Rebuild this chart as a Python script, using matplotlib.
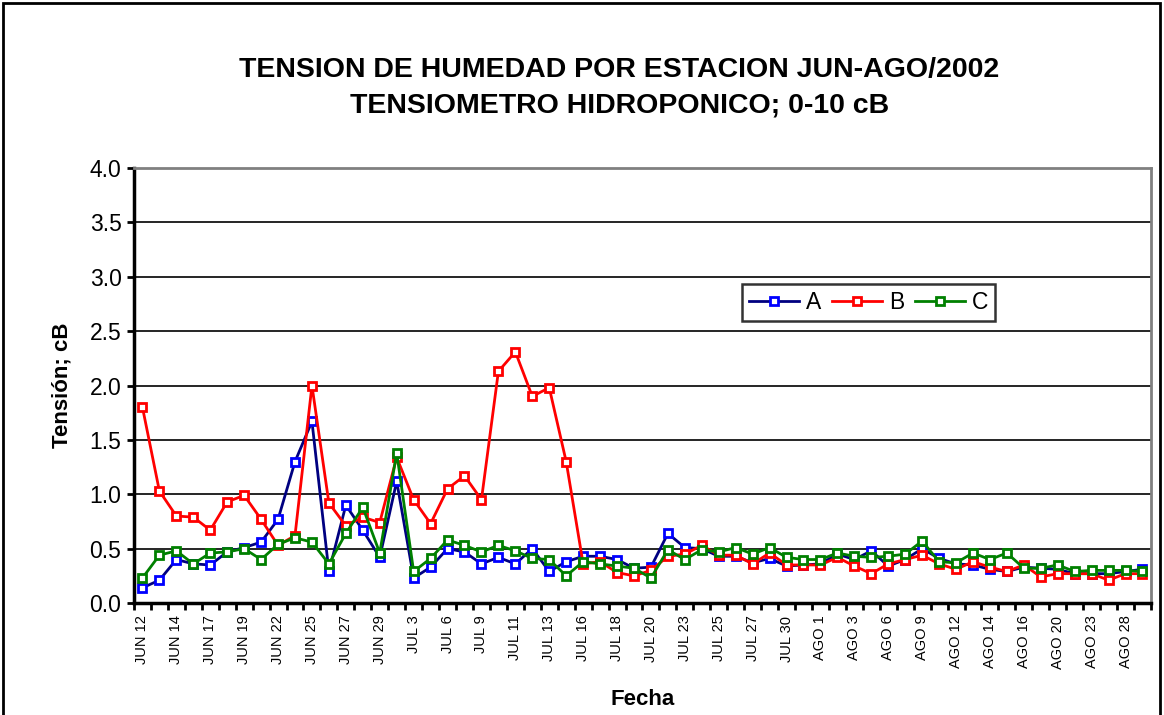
import matplotlib
matplotlib.use("Agg")
import matplotlib.pyplot as plt
from matplotlib.patches import Rectangle

plt.rcParams["font.family"] = ["Liberation Sans", "DejaVu Sans"]

# tick labels, one for every second reading
fechas = [
    "JUN 12", "JUN 14", "JUN 17", "JUN 19", "JUN 22", "JUN 25", "JUN 27",
    "JUN 29", "JUL 3", "JUL 6", "JUL 9", "JUL 11", "JUL 13", "JUL 16",
    "JUL 18", "JUL 20", "JUL 23", "JUL 25", "JUL 27", "JUL 30", "AGO 1",
    "AGO 3", "AGO 6", "AGO 9", "AGO 12", "AGO 14", "AGO 16", "AGO 20",
    "AGO 23", "AGO 28",
]

est_a = [
    0.14, 0.21, 0.40, 0.36, 0.35, 0.47, 0.51, 0.56, 0.77, 1.30,
    1.67, 0.29, 0.90, 0.67, 0.42, 1.12, 0.23, 0.33, 0.50, 0.47,
    0.36, 0.42, 0.36, 0.50, 0.29, 0.38, 0.43, 0.43, 0.40, 0.32,
    0.33, 0.64, 0.51, 0.50, 0.43, 0.43, 0.37, 0.41, 0.34, 0.35,
    0.36, 0.45, 0.40, 0.48, 0.34, 0.40, 0.50, 0.41, 0.36, 0.35,
    0.31, 0.29, 0.33, 0.32, 0.31, 0.27, 0.27, 0.27, 0.29, 0.31,
]
est_b = [
    1.80, 1.03, 0.80, 0.79, 0.67, 0.93, 0.99, 0.77, 0.53, 0.62,
    2.00, 0.92, 0.71, 0.79, 0.74, 1.34, 0.95, 0.73, 1.05, 1.17,
    0.95, 2.13, 2.31, 1.90, 1.98, 1.30, 0.36, 0.38, 0.28, 0.25,
    0.30, 0.43, 0.45, 0.53, 0.44, 0.44, 0.36, 0.46, 0.35, 0.35,
    0.35, 0.42, 0.34, 0.27, 0.36, 0.40, 0.44, 0.36, 0.31, 0.38,
    0.33, 0.29, 0.35, 0.24, 0.27, 0.27, 0.27, 0.21, 0.27, 0.27,
]
est_c = [
    0.23, 0.44, 0.48, 0.36, 0.46, 0.47, 0.50, 0.40, 0.54, 0.60,
    0.56, 0.36, 0.64, 0.88, 0.46, 1.38, 0.29, 0.41, 0.58, 0.53,
    0.47, 0.53, 0.48, 0.41, 0.40, 0.25, 0.38, 0.36, 0.34, 0.32,
    0.23, 0.49, 0.40, 0.49, 0.47, 0.51, 0.45, 0.51, 0.42, 0.40,
    0.40, 0.46, 0.43, 0.42, 0.43, 0.45, 0.57, 0.38, 0.37, 0.46,
    0.40, 0.46, 0.32, 0.32, 0.35, 0.29, 0.30, 0.30, 0.30, 0.29,
]

series = [
    ("A", est_a, "#000080", "#0000ff"),
    ("B", est_b, "#ff0000", "#ff0000"),
    ("C", est_c, "#008000", "#008000"),
]

fig = plt.figure(figsize=(11.64, 7.15), dpi=100)
ax = fig.add_axes([0.1151, 0.1566, 0.8737, 0.6084])

x = list(range(len(est_a)))
for name, vals, lc, mc in series:
    ax.plot(x, vals, color=lc, linewidth=2.0, marker="s", markersize=5.5,
            markerfacecolor="white", markeredgecolor=mc, markeredgewidth=2.0,
            label=name, zorder=3)

ax.set_xlim(-0.5, len(x) - 0.5)
ax.set_ylim(0, 4.0)
ax.set_yticks([i * 0.5 for i in range(9)])
ax.set_yticklabels([f"{i * 0.5:.1f}" for i in range(9)], fontsize=16.5)
ax.yaxis.grid(True, color="black", linewidth=1.2)
ax.set_axisbelow(True)

ax.set_xticks(range(0, len(x), 2))
ax.set_xticklabels(fechas, rotation=90, fontsize=10.5)
ax.set_xticks([i - 0.5 for i in range(len(x) + 1)], minor=True)
ax.tick_params(axis="x", which="major", length=0, pad=9)
ax.tick_params(axis="x", which="minor", length=5, width=2, direction="out")
ax.tick_params(axis="y", length=5, width=2, direction="out", pad=4)

for side in ("top", "right"):
    ax.spines[side].set_color("#808080")
    ax.spines[side].set_linewidth(2)
for side in ("left", "bottom"):
    ax.spines[side].set_color("black")
    ax.spines[side].set_linewidth(2.5)

ax.set_ylabel("Tensión; cB", fontsize=16, fontweight="bold", labelpad=12)
ax.set_xlabel("Fecha", fontsize=16, fontweight="bold", labelpad=15)

fig.text(0.532, 0.902, "TENSION DE HUMEDAD POR ESTACION JUN-AGO/2002",
         ha="center", va="center", fontsize=20.5, fontweight="bold")
fig.text(0.532, 0.853, "TENSIOMETRO HIDROPONICO; 0-10 cB",
         ha="center", va="center", fontsize=20.5, fontweight="bold")

leg = ax.legend(loc="upper left", bbox_to_anchor=(0.598, 0.733), ncol=3,
                fontsize=16.5, frameon=True, fancybox=False, borderaxespad=0,
                handlelength=2.2, columnspacing=0.45, handletextpad=0.3,
                borderpad=0.3)
leg.get_frame().set_edgecolor("black")
leg.get_frame().set_linewidth(1.8)

fig.patches.append(Rectangle((3 / 1164, -0.05), 1157 / 1164, 1.05 - 3 / 715,
                             transform=fig.transFigure, fill=False,
                             edgecolor="black", linewidth=2))

fig.savefig("out.png", dpi=100)
